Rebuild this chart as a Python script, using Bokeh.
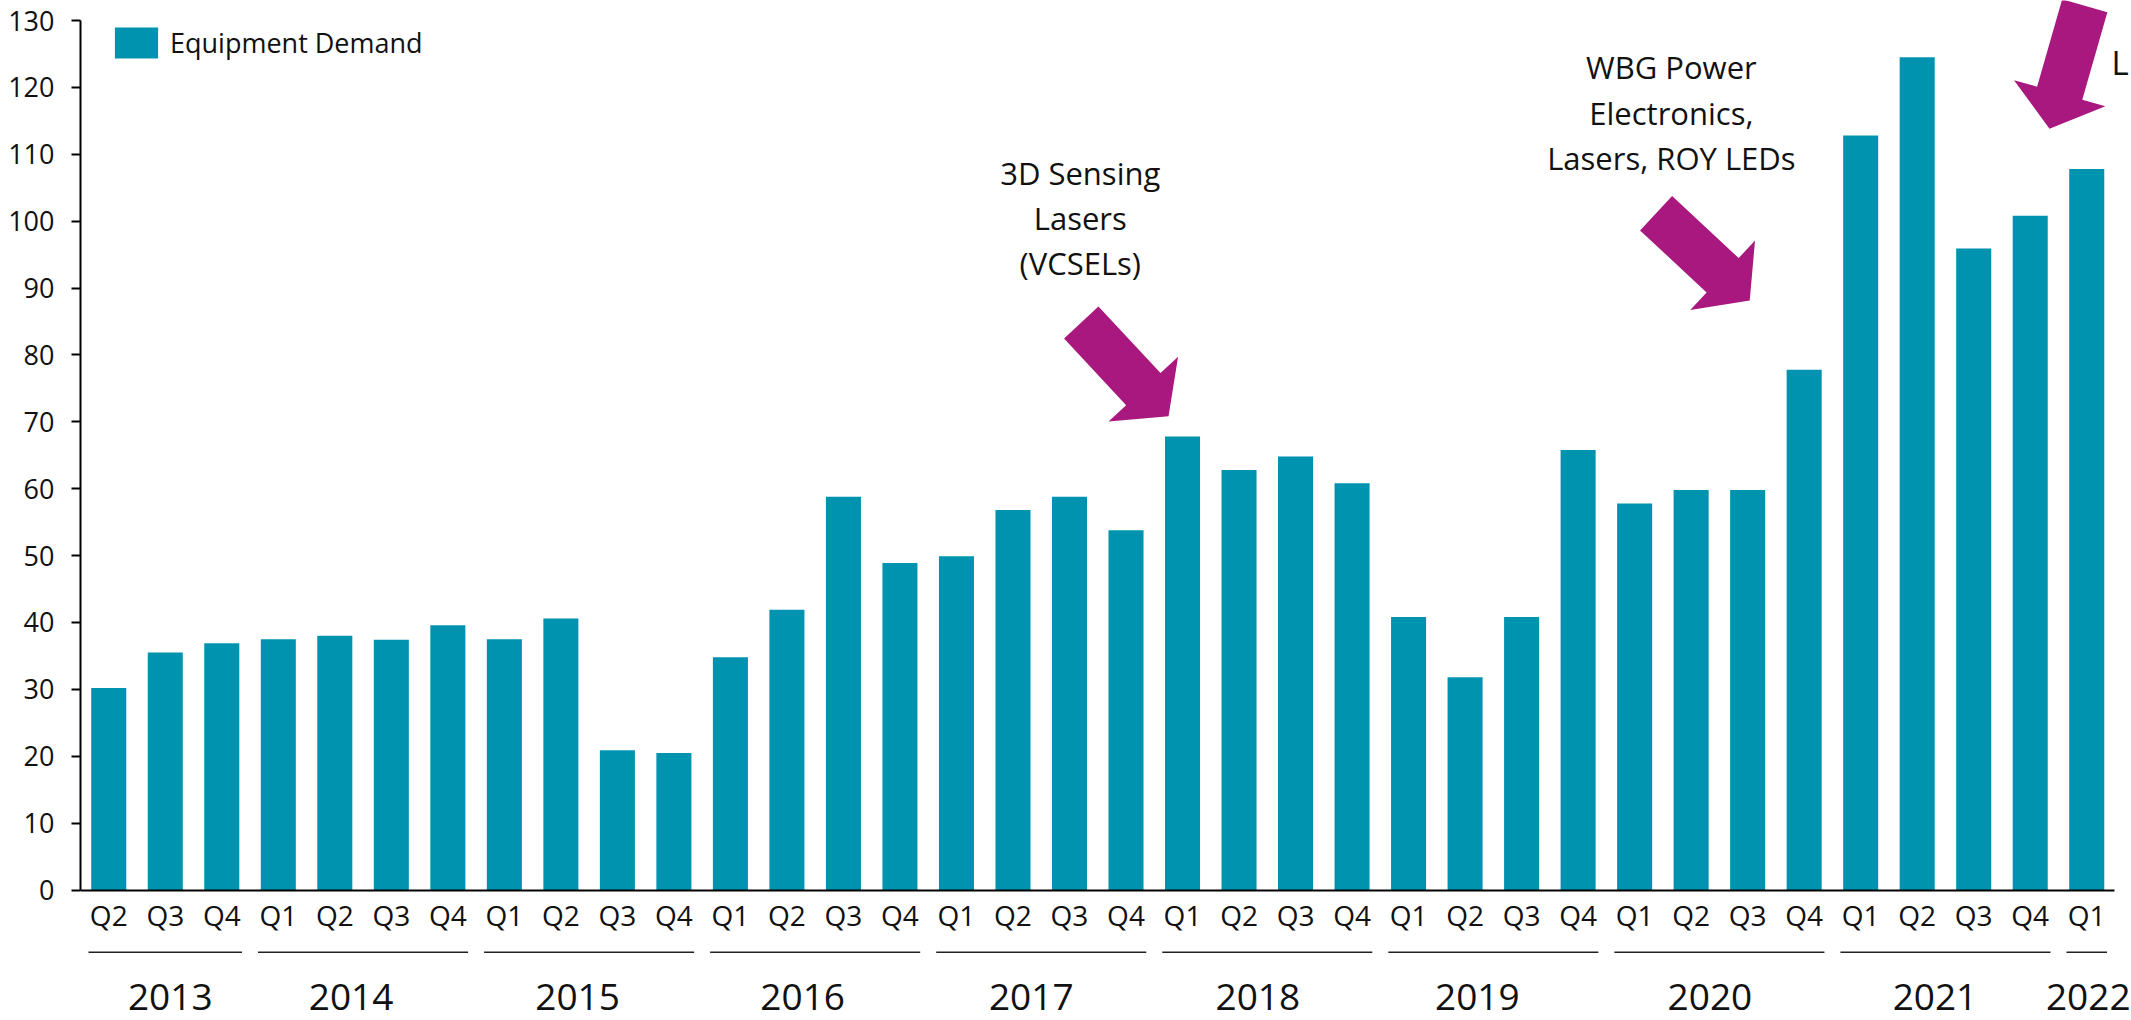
import math
from bokeh.plotting import figure
from bokeh.models import (Range1d, FixedTicker, LinearAxis, Legend, LegendItem,
                          ColumnDataSource)
from bokeh.core.properties import value
from bokeh.embed import file_html
from bokeh.resources import INLINE

# ---------------- data ----------------
YEARS = ["2013", "2014", "2015", "2016", "2017", "2018", "2019", "2020", "2021", "2022"]
QUARTERS_BY_YEAR = [
    ["Q2", "Q3", "Q4"],
    ["Q1", "Q2", "Q3", "Q4"],
    ["Q1", "Q2", "Q3", "Q4"],
    ["Q1", "Q2", "Q3", "Q4"],
    ["Q1", "Q2", "Q3", "Q4"],
    ["Q1", "Q2", "Q3", "Q4"],
    ["Q1", "Q2", "Q3", "Q4"],
    ["Q1", "Q2", "Q3", "Q4"],
    ["Q1", "Q2", "Q3", "Q4"],
    ["Q1"],
]
EQUIPMENT_DEMAND = [
    30.2, 35.5, 36.9,
    37.5, 38.0, 37.4, 39.6,
    37.5, 40.6, 20.9, 20.5,
    34.8, 41.9, 58.8, 48.9,
    49.9, 56.8, 58.8, 53.8,
    67.8, 62.8, 64.8, 60.8,
    40.8, 31.8, 40.8, 65.8,
    57.8, 59.8, 59.8, 77.8,
    112.8, 124.5, 95.9, 100.8,
    107.8,
]
SERIES_NAME = "Equipment Demand"
Y_TICKS = [0, 10, 20, 30, 40, 50, 60, 70, 80, 90, 100, 110, 120, 130]
NOTE_3D = ["3D Sensing", "Lasers", "(VCSELs)"]
NOTE_WBG = ["WBG Power", "Electronics,", "Lasers, ROY LEDs"]
NOTE_CUT = ["L"]

# ---------------- layout / style ----------------
W, H = 2131, 1020
FRAME_LEFT = 80.5
PITCH = 56.5
ZERO_FY = 889.5
PX_PER_UNIT = (889.5 - 20.0) / 130.0
X_START = -0.5
X_END = X_START + (W - FRAME_LEFT) / PITCH
Y_END = ZERO_FY / PX_PER_UNIT
Y_START = -(H - ZERO_FY) / PX_PER_UNIT

BAR_COLOR = "#0093AF"
ARROW_COLOR = "#A8187E"
TEXT_COLOR = "#111111"
AXIS_COLOR = "#000000"
FONT = "Open Sans"


def px_to_data(px, py):
    """pixel position in the picture -> data coordinates"""
    return X_START + (px - FRAME_LEFT) / PITCH, (ZERO_FY - py) / PX_PER_UNIT


def arrow_patch(tip, angle_deg, length=128.0, shaft_w=47.0, head_w=95.0, head_len=37.0):
    a = math.radians(angle_deg)
    ux, uy = math.cos(a), math.sin(a)
    nx, ny = -uy, ux
    tx, ty = tip
    bx, by = tx - ux * head_len, ty - uy * head_len
    cx, cy = tx - ux * length, ty - uy * length
    pts = [
        (cx + nx * shaft_w / 2, cy + ny * shaft_w / 2),
        (bx + nx * shaft_w / 2, by + ny * shaft_w / 2),
        (bx + nx * head_w / 2, by + ny * head_w / 2),
        (tx, ty),
        (bx - nx * head_w / 2, by - ny * head_w / 2),
        (bx - nx * shaft_w / 2, by - ny * shaft_w / 2),
        (cx - nx * shaft_w / 2, cy - ny * shaft_w / 2),
    ]
    conv = [px_to_data(x, y) for x, y in pts]
    return [c[0] for c in conv], [c[1] for c in conv]


# ---------------- derived series ----------------
quarter_labels = [q for qs in QUARTERS_BY_YEAR for q in qs]
year_of_bar = [y for y, qs in zip(YEARS, QUARTERS_BY_YEAR) for _ in qs]
xs = list(range(len(quarter_labels)))

p = figure(width=W, height=H, output_backend="svg", toolbar_location=None,
           x_range=Range1d(X_START, X_END), y_range=Range1d(Y_START, Y_END),
           x_axis_location=None,
           min_border_left=80, min_border_right=0,
           min_border_top=0, min_border_bottom=0)
p.outline_line_color = None
p.grid.visible = False
p.background_fill_color = "white"
p.border_fill_color = "white"

src = ColumnDataSource(dict(x=xs, top=EQUIPMENT_DEMAND, quarter=quarter_labels, year=year_of_bar))
bars = p.vbar(x="x", top="top", bottom=0, width=0.62, source=src,
              fill_color=BAR_COLOR, line_color=None)

# y axis
yax = p.yaxis[0]
yax.ticker = FixedTicker(ticks=Y_TICKS)
yax.bounds = (0, 130)
yax.axis_line_color = AXIS_COLOR
yax.axis_line_width = 2
yax.major_tick_line_color = AXIS_COLOR
yax.major_tick_line_width = 2
yax.major_tick_out = 9
yax.major_tick_in = 0
yax.minor_tick_out = 0
yax.minor_tick_in = 0
yax.major_label_standoff = 17
yax.major_label_text_font = FONT
yax.major_label_text_font_size = "27px"
yax.major_label_text_color = TEXT_COLOR

# x axis at y = 0 with quarter labels
xax = LinearAxis(fixed_location=0,
                 ticker=FixedTicker(ticks=xs),
                 major_label_overrides={i: q for i, q in enumerate(quarter_labels)},
                 bounds=(-0.5, len(xs) - 0.5))
xax.axis_line_color = AXIS_COLOR
xax.axis_line_width = 2
xax.major_tick_out = 0
xax.major_tick_in = 0
xax.minor_tick_out = 0
xax.minor_tick_in = 0
xax.major_label_standoff = 6
xax.major_label_text_font = FONT
xax.major_label_text_font_size = "28px"
xax.major_label_text_color = TEXT_COLOR
p.add_layout(xax, "below")

# year group lines and labels
YEAR_LABEL_DX_PX = [5, -12, -11.5, -12.5, -10, -9.5, -16, -9.5, -10.5, 1.5]
inset = 8.0 / PITCH
seg_x0, seg_x1, year_x = [], [], []
start = 0
for qs, dx in zip(QUARTERS_BY_YEAR, YEAR_LABEL_DX_PX):
    end = start + len(qs) - 1
    seg_x0.append(start - 0.5 + inset)
    seg_x1.append(end + 0.5 - inset)
    year_x.append((start + end) / 2 + dx / PITCH)
    start = end + 1
sep_y = px_to_data(0, 951.7)[1]
year_y = px_to_data(0, 996.0)[1]
p.segment(x0=seg_x0, x1=seg_x1, y0=[sep_y] * len(YEARS), y1=[sep_y] * len(YEARS),
          line_color="#222222", line_width=1.5)
p.text(x=year_x, y=[year_y] * len(YEARS), text=YEARS,
       text_font=value(FONT), text_font_size=value("37px"), text_color=TEXT_COLOR,
       text_align="center", text_baseline="middle")


# annotations (y given as the centre of the capitals, in picture pixels)
def note(lines, cx_px, centers_px, size, align="center"):
    pos = [px_to_data(cx_px, c) for c in centers_px]
    p.text(x=[q[0] for q in pos], y=[q[1] for q in pos], text=lines,
           text_font=value(FONT), text_font_size=value(size), text_color=TEXT_COLOR,
           text_align=align, text_baseline="middle")


note(NOTE_3D, 1080, [172.3, 217.3, 262.3], "31px")
note(NOTE_WBG, 1671, [66.7, 112.3, 157.3], "31px")
note(NOTE_CUT, 2111, [62.2], "33px", align="left")

for tip, ang in [((1168.3, 415.7), 47), ((1749.3, 300.0), 43), ((2049.0, 128.3), 106)]:
    ax_, ay_ = arrow_patch(tip, ang)
    p.patch(ax_, ay_, fill_color=ARROW_COLOR, line_color=None)

# legend (bar legend glyph is drawn with a 10% inset inside glyph box)
legend = Legend(items=[LegendItem(label=SERIES_NAME, renderers=[bars])],
                location=(29, H - 23 - 39))
legend.glyph_width = 54
legend.glyph_height = 39
legend.label_standoff = 7
legend.label_height = 39
legend.padding = 0
legend.margin = 0
legend.spacing = 0
legend.border_line_color = None
legend.background_fill_alpha = 0
legend.label_text_font = FONT
legend.label_text_font_size = "27px"
legend.label_text_color = TEXT_COLOR
p.add_layout(legend)

open("out.html", "w").write(file_html(p, INLINE))
